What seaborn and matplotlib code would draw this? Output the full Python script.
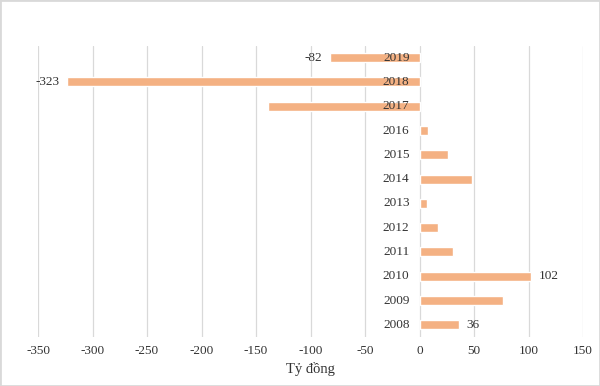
import matplotlib
matplotlib.use("Agg")
import matplotlib.pyplot as plt
from matplotlib.patches import Rectangle
import seaborn as sns
import pandas as pd

# data (billion VND)
years = ["2019", "2018", "2017", "2016", "2015", "2014",
         "2013", "2012", "2011", "2010", "2009", "2008"]
values = [-82, -323, -139, 8, 26, 48, 7, 17, 31, 102, 77, 36]
# only these bars carry a value label in the original
labelled = ["2019", "2018", "2010", "2008"]
xticks = [-350, -300, -250, -200, -150, -100, -50, 0, 50, 100, 150]
xlabel = "Tỷ đồng"

sns.set_theme(style="white")
plt.rcParams["font.family"] = ["Liberation Serif", "DejaVu Serif"]

df = pd.DataFrame({"year": years, "value": values})

fig = plt.figure(figsize=(6, 3.86), dpi=100)
ax = fig.add_axes([38 / 600, 1 - 337 / 386, 545 / 600, 291.5 / 386])

sns.barplot(data=df, x="value", y="year", order=years, orient="h",
            color="#F4B183", saturation=1, width=0.37, ax=ax, zorder=3)

txt = "#333333"
ax.set_xlim(-350, 150)
ax.set_ylim(len(years) - 0.5, -0.5)
ax.set_xticks(xticks)
ax.set_xticklabels([str(t) for t in xticks], fontsize=9.5, color=txt)
ax.tick_params(axis="x", length=0, pad=6)
ax.set_yticks([])
ax.set_ylabel("")
ax.set_xlabel(xlabel, fontsize=10.5, color=txt, labelpad=3)
ax.grid(axis="x", color="#d9d9d9", linewidth=0.9, zorder=0)
for s in ax.spines.values():
    s.set_visible(False)

# category labels sit just left of the zero line
for i, y in enumerate(years):
    ax.annotate(y, (0, i), xytext=(-10, 0), textcoords="offset pixels",
                ha="right", va="center", fontsize=9.5, color=txt, zorder=4)

# value labels at bar ends
for i, (y, v) in enumerate(zip(years, values)):
    if y in labelled:
        off = 8 if v > 0 else -8
        ax.annotate(str(v), (v, i), xytext=(off, 0), textcoords="offset pixels",
                    ha="left" if v > 0 else "right", va="center",
                    fontsize=9.5, color=txt, zorder=4)

fig.patches.append(Rectangle((0, 0), 1, 1, transform=fig.transFigure,
                             fill=False, edgecolor="#d9d9d9", linewidth=2))

fig.savefig("out.png", dpi=100)
